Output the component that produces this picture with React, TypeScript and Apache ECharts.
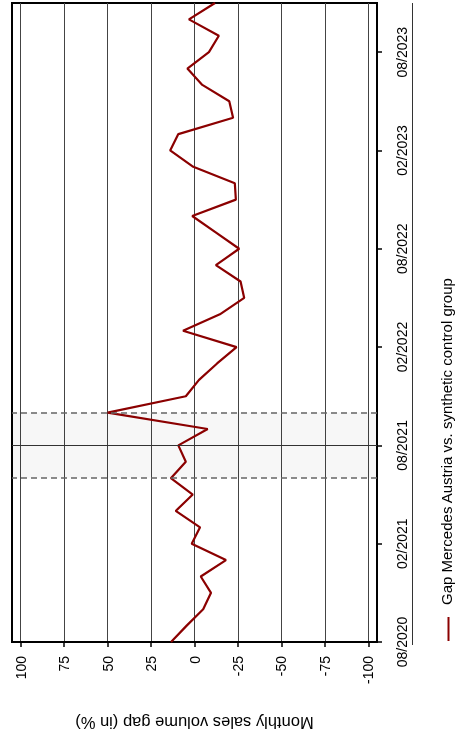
import React, { useEffect, useRef } from 'react';
import * as echarts from 'echarts';

const months = [
  '08/2020', '09/2020', '10/2020', '11/2020', '12/2020',
  '01/2021', '02/2021', '03/2021', '04/2021', '05/2021', '06/2021', '07/2021',
  '08/2021', '09/2021', '10/2021', '11/2021', '12/2021',
  '01/2022', '02/2022', '03/2022', '04/2022', '05/2022', '06/2022', '07/2022',
  '08/2022', '09/2022', '10/2022', '11/2022', '12/2022',
  '01/2023', '02/2023', '03/2023', '04/2023', '05/2023', '06/2023', '07/2023',
  '08/2023', '09/2023', '10/2023', '11/2023',
];

const gapValues = [
  13.5, 4.5, -5.0, -9.5, -3.6,
  -18.1, 1.6, -3.2, 10.8, 1.0, 13.6, 5.0,
  9.3, -7.6, 50.0, 5.0, -2.6,
  -13.0, -24.2, 6.6, -14.6, -28.6, -26.5, -12.3,
  -25.7, -12.2, 1.3, -23.8, -23.2,
  0.7, 14.0, 9.3, -22.2, -20.0, -4.5, 4.1,
  -8.3, -14.0, 3.2, -11.8,
];

const gapTicks = [100, 75, 50, 25, 0, -25, -50, -75, -100];
const treatmentStart = '06/2021';
const treatmentMid = '08/2021';
const treatmentEnd = '10/2021';
const seriesName = 'Gap Mercedes Austria vs. synthetic control group';
const valueAxisTitle = 'Monthly sales volume gap (in %)';

const FONT = '"Liberation Sans", Arial, Helvetica, sans-serif';

export default function App() {
  const ref = useRef<HTMLDivElement>(null);
  useEffect(() => {
    if (!ref.current) return;
    const chart = echarts.init(ref.current, null, { renderer: 'svg' });
    const dashed = { type: [6, 4] as any, color: '#666', width: 1.5 };
    chart.setOption({
      animation: false,
      textStyle: { fontFamily: FONT },
      grid: {
        left: 12, right: 79, top: 3, bottom: 92,
        show: true, borderColor: '#000', borderWidth: 2,
        backgroundColor: 'transparent', containLabel: false,
      },
      xAxis: {
        type: 'value',
        inverse: true,
        min: -105,
        max: 105,
        name: valueAxisTitle,
        nameLocation: 'middle',
        nameGap: 72,
        nameRotate: 180,
        nameTextStyle: { fontSize: 16.5, color: '#000', fontFamily: FONT },
        axisLine: { show: true, onZero: false, lineStyle: { color: '#000', width: 2 } },
        axisTick: { show: true, length: 5, customValues: gapTicks, lineStyle: { color: '#000', width: 1.5 } },
        axisLabel: { customValues: gapTicks, rotate: 90, margin: 14, fontSize: 14, color: '#000', fontFamily: FONT },
        splitLine: { show: true, lineStyle: { color: '#444', width: 1 } },
      },
      yAxis: {
        type: 'category',
        data: months,
        boundaryGap: false,
        position: 'right',
        axisLine: { show: true, onZero: false, lineStyle: { color: '#000', width: 2 } },
        axisTick: { show: true, interval: 5, length: 5, lineStyle: { color: '#000', width: 1.5 } },
        axisLabel: { interval: 5, rotate: 90, margin: 18, fontSize: 14, color: '#000', fontFamily: FONT },
        splitLine: { show: false },
      },
      series: [
        {
          type: 'line',
          name: seriesName,
          data: gapValues,
          symbol: 'none',
          z: 3,
          lineStyle: { color: '#8B0000', width: 2.2 },
          itemStyle: { color: '#8B0000' },
          markArea: {
            silent: true,
            itemStyle: { color: 'rgba(0,0,0,0.03)' },
            data: [[{ yAxis: treatmentStart }, { yAxis: treatmentEnd }]],
          },
          markLine: {
            silent: true,
            symbol: 'none',
            label: { show: false },
            data: [
              { yAxis: treatmentStart, lineStyle: dashed },
              { yAxis: treatmentEnd, lineStyle: dashed },
              { yAxis: treatmentMid, lineStyle: { type: 'solid', color: '#333', width: 1 } },
            ],
          },
        },
      ],
      graphic: [
        { type: 'line', shape: { x1: 412.5, y1: 3, x2: 412.5, y2: 645 }, style: { stroke: '#333', lineWidth: 1 } },
        { type: 'line', shape: { x1: 448.5, y1: 617, x2: 448.5, y2: 641 }, style: { stroke: '#8B0000', lineWidth: 2 } },
        {
          type: 'text', x: 446, y: 605, rotation: Math.PI / 2,
          style: {
            text: seriesName, fontSize: 15, fontFamily: FONT, fill: '#000',
            align: 'left', verticalAlign: 'middle',
          },
        },
      ],
    });
    return () => chart.dispose();
  }, []);
  return <div ref={ref} style={{ position: 'fixed', left: 0, top: 0, width: 456, height: 736 }} />;
}
